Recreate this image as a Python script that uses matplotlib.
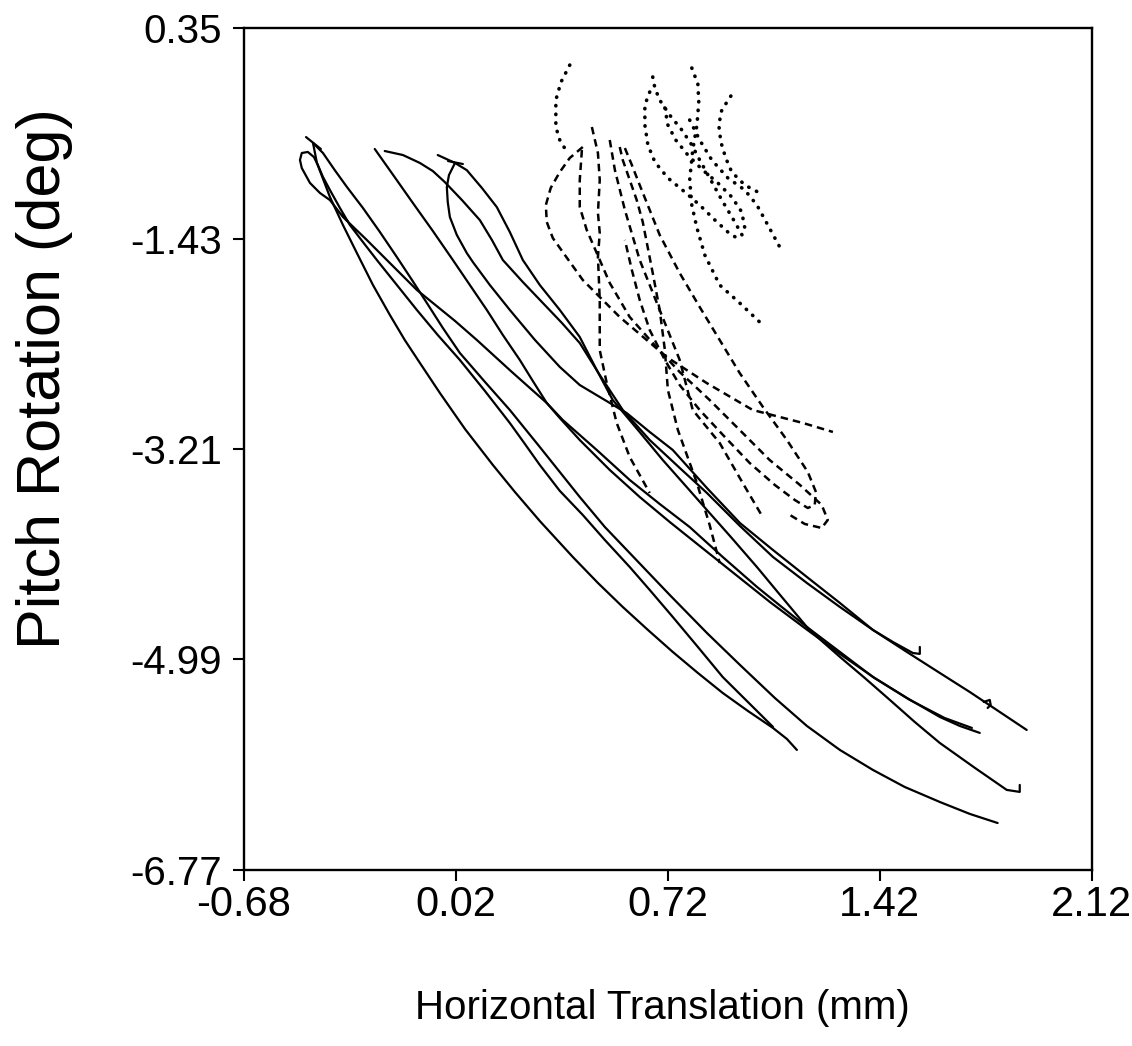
import matplotlib
matplotlib.use("Agg")
import matplotlib.pyplot as plt

# axis ticks
x_ticks = [-0.68, 0.02, 0.72, 1.42, 2.12]
y_ticks = [0.35, -1.43, -3.21, -4.99, -6.77]

# solid traces
s1_x = [-0.452, -0.439, -0.396, -0.353, -0.307, -0.254, -0.198, -0.149, -0.099, -0.033, 0.050, 0.142, 0.215,
        0.297, 0.406, 0.489, 0.571, 0.654, 0.736, 0.819, 0.901, 0.984, 1.067, 1.113, 1.146]
s1_y = [-0.622, -0.791, -1.079, -1.316, -1.553, -1.823, -2.077, -2.288, -2.482, -2.736, -3.041, -3.345, -3.574,
        -3.819, -4.123, -4.343, -4.546, -4.740, -4.926, -5.104, -5.273, -5.425, -5.569, -5.662, -5.755]

s2_x = [-0.452, -0.419, -0.380, -0.340, -0.287, -0.231, -0.175, -0.125, -0.076, -0.023, 0.033, 0.116, 0.198, 0.297,
        0.429, 0.512, 0.594, 0.726, 0.849, 0.958, 1.073, 1.179, 1.288, 1.397, 1.502, 1.618, 1.717, 1.809]
s2_y = [-0.622, -0.707, -0.852, -0.994, -1.172, -1.375, -1.587, -1.781, -1.975, -2.187, -2.398, -2.643, -2.880, -3.193,
        -3.616, -3.870, -4.090, -4.444, -4.766, -5.036, -5.315, -5.552, -5.755, -5.924, -6.068, -6.195, -6.296, -6.373]

s3_x = [1.067, 0.984, 0.901, 0.819, 0.736, 0.660, 0.594, 0.512, 0.439, 0.363, 0.297, 0.248, 0.198, 0.116, 0.033,
        -0.040, -0.109, -0.175, -0.241, -0.287, -0.330, -0.363, -0.396, -0.419, -0.436, -0.449, -0.469, -0.489,
        -0.495, -0.489, -0.462, -0.429, -0.396, -0.353, -0.274, -0.208, -0.109, -0.056, 0.017, 0.089, 0.205,
        0.320, 0.373, 0.485, 0.594, 0.693, 0.792, 0.901, 1.014, 1.096, 1.179, 1.288, 1.397, 1.509, 1.618, 1.684, 1.750]
s3_y = [-5.560, -5.349, -5.138, -4.884, -4.630, -4.402, -4.208, -3.980, -3.768, -3.564, -3.345, -3.168, -2.990, -2.720, -2.457,
        -2.246, -2.034, -1.823, -1.612, -1.460, -1.316, -1.172, -1.020, -0.910, -0.808, -0.741, -0.698, -0.707,
        -0.766, -0.834, -0.960, -1.045, -1.105, -1.248, -1.443, -1.612, -1.865, -1.975, -2.127, -2.288, -2.559,
        -2.821, -2.965, -3.218, -3.472, -3.675, -3.870, -4.123, -4.376, -4.546, -4.715, -4.926, -5.138, -5.315, -5.476, -5.552, -5.611]

s4_x = [-0.248, -0.185, -0.122, -0.056, 0.010, 0.066, 0.122, 0.175, 0.231, 0.274, 0.320, 0.363, 0.429,
        0.528, 0.627, 0.726, 0.825, 0.941, 1.057, 1.172, 1.288, 1.403, 1.519, 1.634, 1.724]
s4_y = [-0.673, -0.901, -1.130, -1.367, -1.612, -1.823, -2.034, -2.246, -2.457, -2.635, -2.821, -2.948, -3.134,
        -3.387, -3.616, -3.827, -4.030, -4.267, -4.504, -4.724, -4.943, -5.147, -5.332, -5.485, -5.569]

s5_x = [-0.215, -0.155, -0.099, -0.056, -0.017, 0.040, 0.099, 0.139, 0.175, 0.241, 0.307, 0.370, 0.429, 0.495,
        0.571, 0.660, 0.759, 0.849, 0.958, 1.067, 1.179, 1.288, 1.397, 1.509, 1.618, 1.717, 1.816, 1.905]
s5_y = [-0.690, -0.724, -0.791, -0.860, -0.952, -1.105, -1.274, -1.443, -1.612, -1.798, -1.975, -2.144, -2.314, -2.584,
        -2.880, -3.134, -3.370, -3.582, -3.861, -4.123, -4.343, -4.546, -4.740, -4.926, -5.104, -5.265, -5.434, -5.586]

s6_x = [0.017, -0.003, -0.010, -0.007, 0.000, 0.023, 0.056, 0.076, 0.132, 0.198, 0.281, 0.363, 0.429, 0.495,
        0.584, 0.660, 0.736, 0.849, 0.958, 1.067, 1.179, 1.288, 1.397, 1.463, 1.529, 1.552, 1.552]
s6_y = [-0.791, -0.894, -0.994, -1.121, -1.248, -1.400, -1.553, -1.629, -1.823, -2.034, -2.288, -2.516, -2.669, -2.770,
        -2.906, -3.066, -3.218, -3.540, -3.836, -4.064, -4.292, -4.512, -4.740, -4.842, -4.935, -4.943, -4.884]

s7_x = [-0.040, 0.017, 0.056, 0.106, 0.155, 0.198, 0.241, 0.297, 0.363, 0.429, 0.485, 0.538, 0.621, 0.703, 0.776,
        0.849, 0.931, 1.014, 1.096, 1.179, 1.232, 1.288, 1.370, 1.453, 1.535, 1.618, 1.734, 1.839, 1.882, 1.882]
s7_y = [-0.724, -0.791, -0.852, -1.003, -1.164, -1.375, -1.612, -1.823, -2.034, -2.263, -2.542, -2.796, -3.049, -3.303, -3.514,
        -3.726, -3.963, -4.208, -4.461, -4.715, -4.842, -4.968, -5.146, -5.332, -5.518, -5.696, -5.907, -6.093, -6.110, -6.051]

# small marks on the solid traces
xmark_x = [-0.475, -0.426]
xmark_y = [-0.572, -0.673]
tmark_x = [-0.006, 0.043]
tmark_y = [-0.775, -0.800]
hook_x = [1.763, 1.783, 1.786, 1.776]
hook_y = [-5.349, -5.332, -5.374, -5.400]

# dashed traces
d1_x = [0.439, 0.396, 0.363, 0.333, 0.317, 0.320, 0.340, 0.380, 0.439, 0.561, 0.716, 0.848, 1.000, 1.166, 1.265]
d1_y = [-0.656, -0.749, -0.868, -1.003, -1.147, -1.290, -1.426, -1.570, -1.781, -2.094, -2.432, -2.652, -2.880, -2.990, -3.066]

d2_x = [0.469, 0.489, 0.495, 0.489, 0.495, 0.489, 0.495, 0.495, 0.518, 0.551, 0.594, 0.660]
d2_y = [-0.487, -0.707, -0.935, -1.214, -1.383, -1.586, -1.950, -2.373, -2.652, -2.990, -3.278, -3.582]

d3_x = [0.561, 0.571, 0.594, 0.617, 0.637, 0.670, 0.693, 0.710, 0.720, 0.753, 0.816, 0.858, 0.891]
d3_y = [-0.656, -0.766, -0.935, -1.104, -1.290, -1.722, -2.034, -2.372, -2.711, -3.049, -3.498, -3.853, -4.174]

d4_x = [0.578, 0.601, 0.627, 0.660, 0.693, 0.759, 0.825, 0.891, 0.957, 1.034, 1.113, 1.182, 1.209, 1.205,
        1.182, 1.139, 1.073, 0.990, 0.908, 0.825, 0.759, 0.710, 0.660, 0.627, 0.601, 0.578]
d4_y = [-0.665, -0.808, -0.978, -1.189, -1.400, -1.722, -2.009, -2.288, -2.567, -2.855, -3.134, -3.404, -3.574, -3.683,
        -3.709, -3.641, -3.514, -3.328, -3.108, -2.880, -2.669, -2.457, -2.204, -1.950, -1.696, -1.442]

d5_x = [0.436, 0.429, 0.429, 0.452, 0.485, 0.528, 0.594, 0.670, 0.759, 0.858, 0.957, 1.056, 1.156, 1.228, 1.248, 1.228, 1.172, 1.123]
d5_y = [-0.682, -0.935, -1.163, -1.358, -1.552, -1.806, -2.094, -2.314, -2.559, -2.796, -3.049, -3.303, -3.514, -3.683, -3.810, -3.878, -3.844, -3.768]

d6_x = [0.528, 0.545, 0.578, 0.627, 0.693, 0.759, 0.802, 0.891, 0.967, 1.033]
d6_y = [-0.597, -0.851, -1.189, -1.612, -2.035, -2.457, -2.880, -3.159, -3.497, -3.785]

# dotted traces
t0_x = [0.396, 0.367, 0.350, 0.350, 0.363, 0.383]
t0_y = [0.037, -0.107, -0.259, -0.487, -0.597, -0.682]

t1_x = [0.670, 0.677, 0.693, 0.726, 0.766, 0.799, 0.825, 0.858, 0.898, 0.941, 0.974]
t1_y = [-0.064, -0.157, -0.259, -0.386, -0.512, -0.639, -0.766, -0.918, -1.104, -1.290, -1.442]

t2_x = [0.799, 0.819, 0.822, 0.816, 0.802, 0.792, 0.799, 0.816, 0.842, 0.891, 0.957, 1.023]
t2_y = [0.012, -0.123, -0.276, -0.470, -0.682, -0.935, -1.147, -1.341, -1.570, -1.823, -1.975, -2.136]

t3_x = [0.928, 0.898, 0.888, 0.895, 0.911, 0.931, 0.974, 1.023]
t3_y = [-0.225, -0.343, -0.470, -0.614, -0.749, -0.868, -0.978, -1.045]

t4_x = [0.660, 0.644, 0.644, 0.654, 0.677, 0.720, 0.776, 0.825, 0.875, 0.918, 0.957]
t4_y = [-0.191, -0.301, -0.470, -0.639, -0.783, -0.918, -1.037, -1.147, -1.273, -1.375, -1.442]

t5_x = [0.792, 0.825, 0.865, 0.918, 0.974, 1.014, 1.050, 1.093]
t5_y = [-0.428, -0.597, -0.766, -0.918, -1.020, -1.147, -1.316, -1.519]

t6_x = [0.710, 0.720, 0.746, 0.786, 0.835, 0.885, 0.931, 0.964, 0.974]
t6_y = [-0.326, -0.470, -0.597, -0.724, -0.851, -0.960, -1.079, -1.206, -1.341]

solid = [(s1_x, s1_y), (s2_x, s2_y), (s3_x, s3_y), (s4_x, s4_y), (s5_x, s5_y), (s6_x, s6_y),
         (s7_x, s7_y), (xmark_x, xmark_y), (tmark_x, tmark_y), (hook_x, hook_y)]
dashed = [(d1_x, d1_y), (d2_x, d2_y), (d3_x, d3_y), (d4_x, d4_y), (d5_x, d5_y), (d6_x, d6_y)]
dotted = [(t0_x, t0_y), (t1_x, t1_y), (t2_x, t2_y), (t3_x, t3_y), (t4_x, t4_y), (t5_x, t5_y), (t6_x, t6_y)]

fig = plt.figure(figsize=(11.32, 10.46), dpi=100)
ax = fig.add_axes([0.2155, 0.1683, 0.749, 0.8049])

for xs, ys in solid:
    ax.plot(xs, ys, color='black', lw=1.6, solid_joinstyle='round', solid_capstyle='round')
for xs, ys in dashed:
    ax.plot(xs, ys, color='black', lw=1.8, linestyle=(0, (3.0, 2.0)))
for xs, ys in dotted:
    ax.plot(xs, ys, color='black', lw=2.6, linestyle=(0, (0.1, 2.3)), dash_capstyle='round')

ax.set_xlim(-0.68, 2.12)
ax.set_ylim(-6.77, 0.35)
ax.set_xticks(x_ticks)
ax.set_yticks(y_ticks)
ax.set_xticklabels([f'{v:.2f}' for v in x_ticks], family=['Liberation Sans', 'DejaVu Sans'], fontsize=30)
ax.set_yticklabels([f'{v:.2f}' for v in y_ticks], family=['Liberation Sans', 'DejaVu Sans'], fontsize=29)

for side in ['top', 'right', 'left', 'bottom']:
    ax.spines[side].set_linewidth(1.7)
ax.tick_params(axis='both', direction='out', length=8, width=1.5, color='black')
ax.tick_params(axis='x', pad=3)
ax.tick_params(axis='y', pad=8)

ax.set_xlabel('Horizontal Translation (mm)', family=['Liberation Sans', 'DejaVu Sans'], fontsize=29,
              va='center', ha='center')
ax.set_ylabel('Pitch Rotation (deg)', family=['Liberation Sans', 'DejaVu Sans'], fontsize=44,
              va='center', ha='center')
ax.xaxis.set_label_coords(0.493, -0.164)
ax.yaxis.set_label_coords(-0.235, 0.584)

fig.savefig('out.png', dpi=100, facecolor='white')
